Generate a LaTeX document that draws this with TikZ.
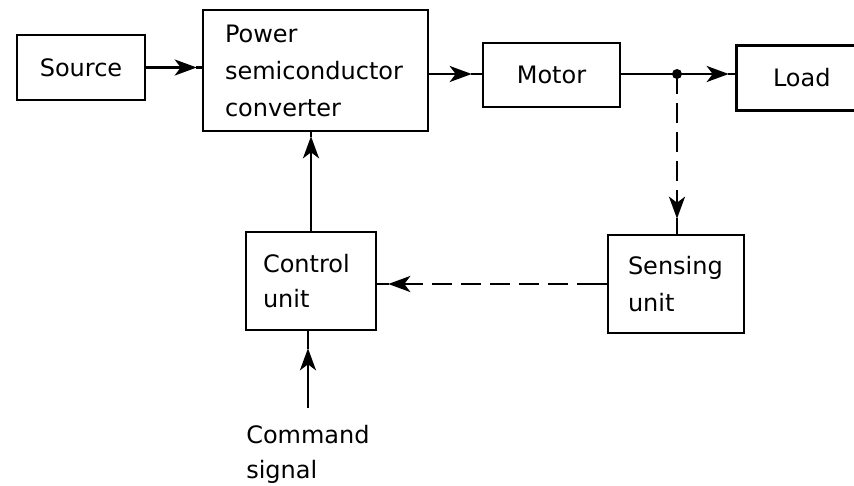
\documentclass[tikz,border=0pt]{standalone}
\usepackage{fontspec}
\setmainfont{DejaVu Sans}
\usetikzlibrary{arrows.meta}
\begin{document}
\begin{tikzpicture}[x=1pt,y=-1pt,line width=2.6pt,
  blk/.style={draw,rectangle,inner sep=0pt,font=\fontsize{24}{37}\selectfont},
  lbl/.style={inner sep=0pt,font=\fontsize{24}{35}\selectfont,align=left},
  tip/.style={-{Stealth[length=22pt,width=16pt,inset=6pt]}},
  dsh/.style={dash pattern=on 20pt off 9pt}]
\useasboundingbox (0,0) rectangle (854,485);
\node[blk,minimum width=128pt,minimum height=65pt] (src) at (81,67.5) {Source};
\node[blk,minimum width=225pt,minimum height=121pt,text width=181pt,align=left] (conv) at (315.5,70.5) {Power\\semiconductor\\converter};
\node[blk,minimum width=137pt,minimum height=64pt] (mot) at (551.5,75) {Motor};
\node[blk,draw=none,minimum width=116pt,minimum height=62pt,text width=46pt,align=left] (load) at (796,78) {Load};
\draw (load.north east) -- (load.north west) -- (load.south west) -- (load.south east);
\node[blk,minimum width=130pt,minimum height=98pt,text width=96pt,align=left] (ctrl) at (311,281) {Control\\[-2pt]unit};
\node[blk,minimum width=136pt,minimum height=98pt,text width=96pt,align=left] (sens) at (676,284) {Sensing\\unit};
\node[lbl,anchor=north west] (cmd) at (245,424) {Command\\signal};
\coordinate (j) at (677,74);
\fill (j) circle (5pt);
% source -> converter
\draw[tip,shorten >=5pt] (src.east) -- (src.east -| conv.west);
\draw (src.east -| conv.west) -- ++(-6,0);
% converter -> motor
\draw[tip,shorten >=10pt] (conv.east |- j) -- (mot.west |- j);
\draw (mot.west |- j) -- ++(-11,0);
% motor -> junction -> load
\draw (mot.east |- j) -- (j);
\draw[tip,shorten >=8pt] (j) -- (j -| load.west);
\draw (j -| load.west) -- ++(-9,0);
% junction -> sensing (dashed)
\draw[dsh,tip,shorten >=15pt] (j) -- (j |- sens.north);
\draw (j |- sens.north) -- ++(0,-16);
% sensing -> control (dashed)
\draw (sens.west) -- ++(-10,0);
\draw[dsh,tip,shorten >=11pt,shorten <=10pt] (sens.west) -- (sens.west -| ctrl.east);
\draw (sens.west -| ctrl.east) -- ++(12,0);
% control -> converter
\draw[tip,shorten >=4pt] (ctrl.north) -- (ctrl.north |- conv.south);
\draw (ctrl.north |- conv.south) -- ++(0,5);
% command -> control
\draw[tip,shorten <=16pt,shorten >=17pt] (cmd.north) -- (cmd.north |- ctrl.south);
\draw (cmd.north |- ctrl.south) -- ++(0,18);
\end{tikzpicture}
\end{document}
